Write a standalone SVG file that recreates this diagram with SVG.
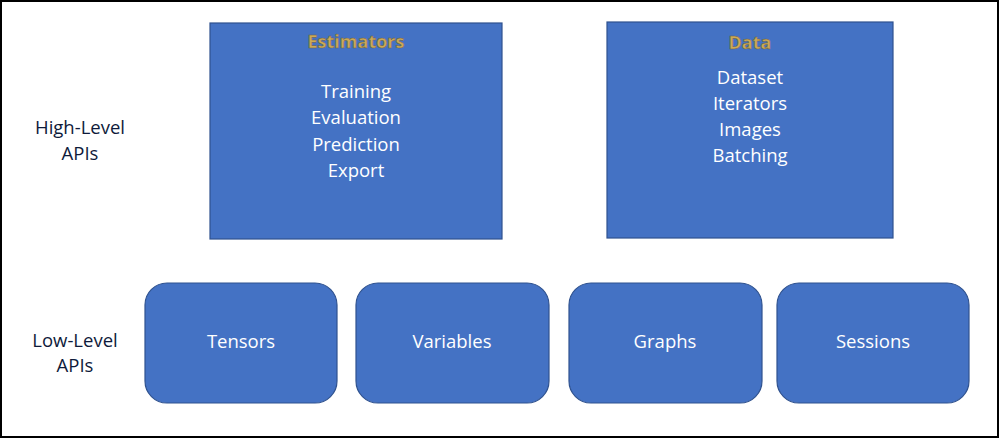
<svg xmlns="http://www.w3.org/2000/svg" width="1000" height="439" viewBox="0 0 1000 439">
<style>
.box{fill:#4472C4;stroke:#2F528F;stroke-width:1.2}
.t{font-family:"Open Sans","Noto Sans",sans-serif;font-size:18.5px;fill:#FFFFFF;text-anchor:middle}
.h{font-family:"Open Sans","Noto Sans",sans-serif;font-size:18px;font-weight:bold;fill:#CCAA58;stroke:#6E6240;stroke-width:0.5;text-anchor:middle}
.lab{font-family:"Open Sans","Noto Sans",sans-serif;font-size:18.5px;fill:#0E1A3A;text-anchor:middle}
</style>
<rect x="0" y="0" width="1000" height="439" fill="#FFFFFF"/>
<rect x="1" y="1" width="997" height="436" fill="none" stroke="#000000" stroke-width="2"/>
<g id="connectors"></g>
<g id="label-high">
<text class="lab" x="80" y="134">High-Level</text>
<text class="lab" x="80" y="160">APIs</text>
</g>
<g id="label-low">
<text class="lab" x="75" y="347">Low-Level</text>
<text class="lab" x="75" y="372">APIs</text>
</g>
<g id="estimators">
<rect class="box" x="210" y="23" width="292" height="216"/>
<text class="h" x="356" y="48">Estimators</text>
<text class="t" x="356" y="98">Training</text>
<text class="t" x="356" y="124">Evaluation</text>
<text class="t" x="356" y="151">Prediction</text>
<text class="t" x="356" y="177">Export</text>
</g>
<g id="data">
<rect class="box" x="607" y="22" width="286" height="216"/>
<text class="h" x="750" y="49">Data</text>
<text class="t" x="750" y="84">Dataset</text>
<text class="t" x="750" y="110">Iterators</text>
<text class="t" x="750" y="136">Images</text>
<text class="t" x="750" y="162">Batching</text>
</g>
<g id="tensors">
<rect class="box" x="145" y="283" width="192" height="120" rx="22" ry="22"/>
<text class="t" x="241" y="348">Tensors</text>
</g>
<g id="variables">
<rect class="box" x="356" y="283" width="193" height="120" rx="22" ry="22"/>
<text class="t" x="452" y="348">Variables</text>
</g>
<g id="graphs">
<rect class="box" x="569" y="283" width="193" height="120" rx="22" ry="22"/>
<text class="t" x="665" y="348">Graphs</text>
</g>
<g id="sessions">
<rect class="box" x="777" y="283" width="192" height="120" rx="22" ry="22"/>
<text class="t" x="873" y="348">Sessions</text>
</g>
</svg>
